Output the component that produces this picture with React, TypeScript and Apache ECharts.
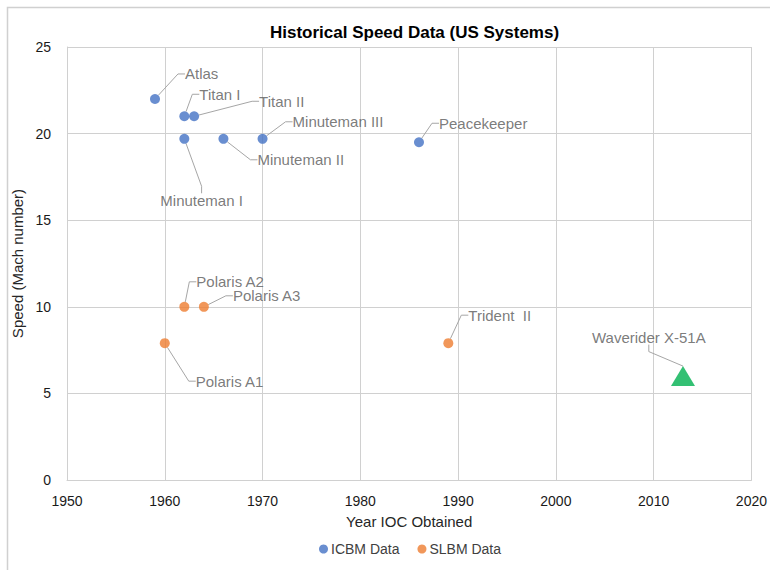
import React, { useEffect, useRef } from "react";
import * as echarts from "echarts";

const icbmNames = ["Atlas", "Titan I", "Titan II", "Minuteman I", "Minuteman II", "Minuteman III", "Peacekeeper"];
const icbmYears = [1959, 1962, 1963, 1962, 1966, 1970, 1986];
const icbmSpeeds = [22, 21, 21, 19.7, 19.7, 19.7, 19.5];

const slbmNames = ["Polaris A1", "Polaris A2", "Polaris A3", "Trident  II"];
const slbmYears = [1960, 1962, 1964, 1989];
const slbmSpeeds = [7.9, 10, 10, 7.9];

const hyperNames = ["Waverider X-51A"];
const hyperYears = [2013];
const hyperSpeeds = [6];

// label offsets (text left edge / vertical centre relative to the point), px
const icbmLabelOffsets = [
  [27, -25], [12, -22], [62, -15], [-27, 62], [31, 21], [27, -17], [17, -19],
];
const slbmLabelOffsets = [[28, 38], [9, -25], [26, -11], [17, -28]];
const hyperLabelOffsets = [[-94, -39]];

const FONT = "'Liberation Sans', Arial, sans-serif";

function makeLayout(offsets: number[][]) {
  return (p: any) => {
    const o = offsets[p.dataIndex] || [0, 0];
    const r = p.rect;
    return {
      x: r.x + r.width / 2 + o[0],
      y: r.y + r.height / 2 + o[1],
      align: "left",
      verticalAlign: "middle",
    };
  };
}

const labelBase = {
  show: true,
  formatter: "{b}",
  color: "#595959",
  fontSize: 15,
  fontFamily: FONT,
  padding: [1, 3, 1, 3],
};
const labelLineBase = {
  show: true,
  length2: 7,
  lineStyle: { color: "#a6a6a6", width: 1 },
};

export default function App() {
  const ref = useRef<HTMLDivElement>(null);
  useEffect(() => {
    if (!ref.current) return;
    const chart = echarts.init(ref.current, undefined, { renderer: "svg" });
    const toData = (names: string[], xs: number[], ys: number[]) =>
      names.map((n, i) => ({ name: n, value: [xs[i], ys[i]] }));
    chart.setOption({
      animation: false,
      backgroundColor: "#ffffff",
      textStyle: { fontFamily: FONT },
      graphic: [
        {
          type: "rect",
          left: 5,
          top: 5,
          shape: { width: 800, height: 600 },
          style: { fill: "none", stroke: "#d0d0d0", lineWidth: 1.5 },
          silent: true,
        },
      ],
      title: {
        text: "Historical Speed Data (US Systems)",
        left: 265,
        top: 19,
        textStyle: { fontSize: 17, fontWeight: "bold", color: "#000", fontFamily: FONT },
      },
      legend: {
        data: ["ICBM Data", "SLBM Data"],
        left: 314,
        top: 537,
        icon: "circle",
        itemWidth: 9,
        itemHeight: 9,
        itemGap: 18,
        textStyle: { fontSize: 14, color: "#404040", fontFamily: FONT, padding: [0, 0, 0, -2] },
      },
      grid: { left: 67, right: 17, top: 47, bottom: 90, containLabel: false },
      xAxis: {
        type: "value",
        min: 1950,
        max: 2020,
        interval: 10,
        name: "Year IOC Obtained",
        nameLocation: "middle",
        nameGap: 34,
        nameTextStyle: { fontSize: 15, color: "#262626", fontFamily: FONT },
        axisLine: { show: true, lineStyle: { color: "#d0d0d0" } },
        axisTick: { show: false },
        axisLabel: {
          fontSize: 14,
          color: "#1a1a1a",
          margin: 14,
          fontFamily: FONT,
          formatter: (v: number) => String(v),
        },
        splitLine: { show: true, lineStyle: { color: "#d0d0d0", width: 1 } },
      },
      yAxis: {
        type: "value",
        min: 0,
        max: 25,
        interval: 5,
        name: "Speed (Mach number)",
        nameLocation: "middle",
        nameGap: 40,
        nameTextStyle: { fontSize: 15, color: "#262626", fontFamily: FONT },
        axisLine: { show: true, lineStyle: { color: "#d0d0d0" } },
        axisTick: { show: false },
        axisLabel: { fontSize: 14, color: "#1a1a1a", margin: 16, fontFamily: FONT },
        splitLine: { show: true, lineStyle: { color: "#d0d0d0", width: 1 } },
      },
      series: [
        {
          name: "ICBM Data",
          type: "scatter",
          symbol: "circle",
          symbolSize: 10,
          itemStyle: { color: "#4472C4" },
          data: toData(icbmNames, icbmYears, icbmSpeeds),
          label: labelBase,
          labelLine: labelLineBase,
          labelLayout: makeLayout(icbmLabelOffsets),
          z: 3,
        },
        {
          name: "SLBM Data",
          type: "scatter",
          symbol: "circle",
          symbolSize: 10,
          itemStyle: { color: "#ED7D31" },
          data: toData(slbmNames, slbmYears, slbmSpeeds),
          label: labelBase,
          labelLine: labelLineBase,
          labelLayout: makeLayout(slbmLabelOffsets),
          z: 3,
        },
        {
          name: "Hypersonic",
          type: "scatter",
          symbol: "triangle",
          symbolSize: [24, 20],
          itemStyle: { color: "#00B050" },
          data: toData(hyperNames, hyperYears, hyperSpeeds),
          label: labelBase,
          labelLine: labelLineBase,
          labelLayout: makeLayout(hyperLabelOffsets),
          z: 3,
        },
      ],
    });
    return () => chart.dispose();
  }, []);
  return (
    <div
      ref={ref}
      style={{ position: "fixed", left: 0, top: 0, width: 770, height: 570 }}
    />
  );
}
